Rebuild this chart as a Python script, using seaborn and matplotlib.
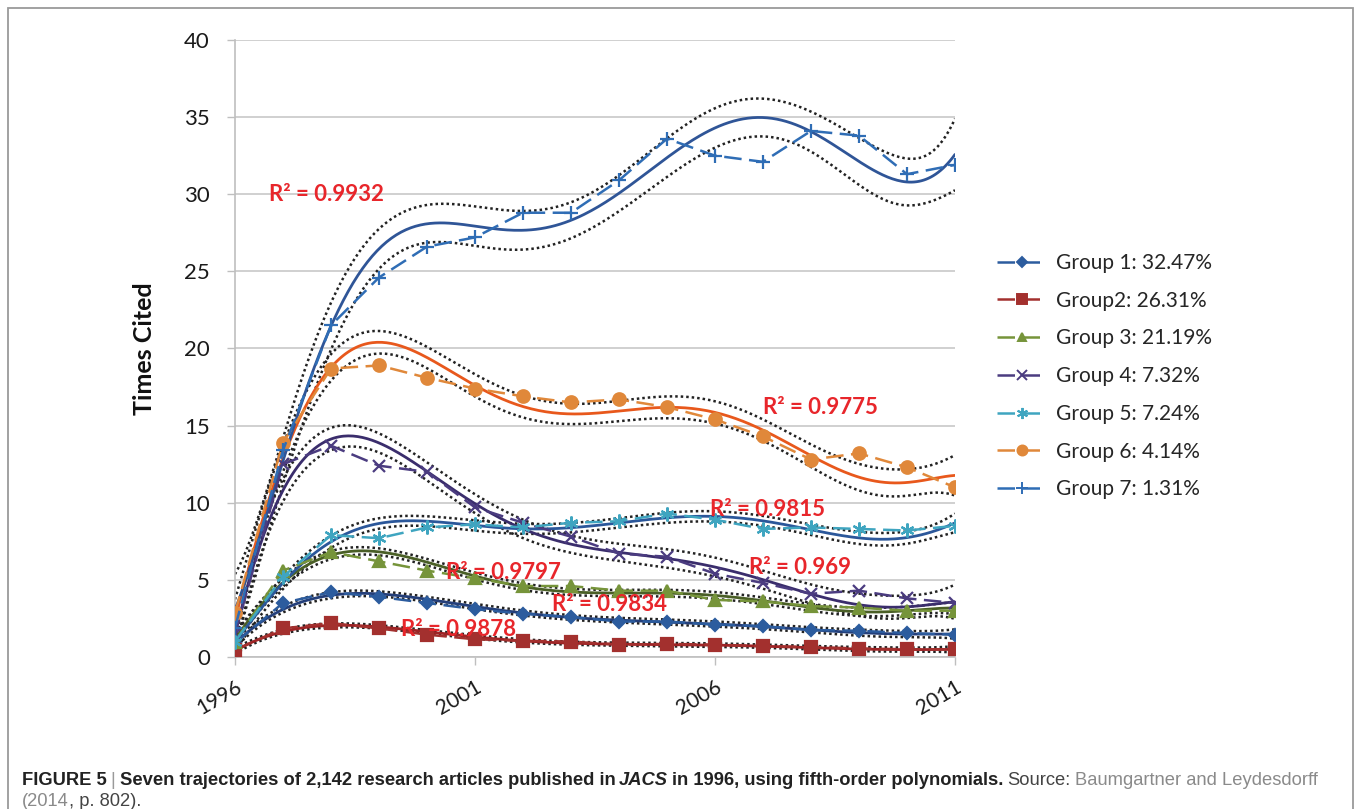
import numpy as np
import pandas as pd
import matplotlib
matplotlib.use("Agg")
import matplotlib.pyplot as plt
import seaborn as sns
from matplotlib.lines import Line2D
from matplotlib.patches import Rectangle
from matplotlib.transforms import IdentityTransform, ScaledTranslation
from matplotlib import font_manager

# ==========================================
# data (times cited per year)
# ==========================================
years = list(range(1996, 2012))
group_names = ["Group 1: 32.47%", "Group2: 26.31%", "Group 3: 21.19%", "Group 4: 7.32%",
               "Group 5: 7.24%", "Group 6: 4.14%", "Group 7: 1.31%"]
g1 = [0.9, 3.5, 4.2, 3.9, 3.5, 3.1, 2.8, 2.6, 2.3, 2.3, 2.1, 2.0, 1.75, 1.7, 1.55, 1.45]
g2 = [0.45, 1.85, 2.2, 1.85, 1.45, 1.15, 1.05, 1.0, 0.8, 0.85, 0.8, 0.7, 0.65, 0.55, 0.5, 0.5]
g3 = [1.0, 5.6, 6.8, 6.2, 5.6, 5.1, 4.6, 4.6, 4.3, 4.3, 3.7, 3.6, 3.3, 3.2, 3.0, 3.0]
g4 = [1.5, 12.5, 13.7, 12.4, 12.0, 9.7, 8.7, 7.8, 6.7, 6.5, 5.4, 4.8, 4.1, 4.3, 3.8, 3.5]
g5 = [1.0, 5.2, 7.9, 7.7, 8.4, 8.6, 8.4, 8.7, 8.8, 9.3, 8.9, 8.3, 8.4, 8.3, 8.2, 8.5]
g6 = [2.85, 13.9, 18.7, 18.9, 18.1, 17.4, 16.9, 16.5, 16.7, 16.2, 15.4, 14.3, 12.8, 13.2, 12.3, 11.0]
g7 = [1.9, 13.4, 21.5, 24.6, 26.6, 27.2, 28.8, 28.8, 30.9, 33.6, 32.5, 32.1, 34.1, 33.8, 31.3, 31.9]
series = [g1, g2, g3, g4, g5, g6, g7]

# trend lines as drawn in the figure, read at each year
t1 = [0.9, 3.0, 4.1, 4.1, 3.7, 3.2, 2.9, 2.6, 2.4, 2.25, 2.1, 1.95, 1.8, 1.6, 1.45, 1.5]
t2 = [0.4, 1.6, 2.1, 1.95, 1.6, 1.3, 1.05, 0.9, 0.85, 0.8, 0.75, 0.7, 0.6, 0.55, 0.45, 0.5]
t3 = [1.2, 4.6, 6.9, 6.8, 6.0, 5.2, 4.6, 4.3, 4.2, 4.1, 3.9, 3.6, 3.3, 3.0, 2.9, 3.2]
t4 = [1.5, 10.5, 14.6, 13.7, 11.9, 9.9, 8.4, 7.45, 6.7, 6.35, 5.8, 5.0, 4.15, 3.4, 3.2, 3.6]
t5 = [1.0, 4.8, 7.5, 8.6, 8.8, 8.6, 8.3, 8.3, 8.7, 9.1, 9.1, 8.8, 8.2, 7.8, 7.7, 8.7]
t6 = [2.5, 12.5, 19.3, 20.3, 19.1, 17.6, 16.5, 15.75, 15.9, 16.1, 15.9, 14.7, 13.0, 11.8, 11.2, 11.8]
t7 = [3.0, 13.0, 20.8, 27.0, 28.1, 27.8, 27.5, 28.3, 30.3, 32.4, 34.2, 34.8, 34.2, 32.2, 30.7, 32.6]
trends = [t1, t2, t3, t4, t5, t6, t7]
# half-width of the dotted band around each trend, mid-period
band_w = [0.15, 0.1, 0.2, 0.55, 0.3, 0.65, 1.15]

r2_labels = ["R² = 0.9834", "R² = 0.9878", "R² = 0.9797", "R² = 0.969",
             "R² = 0.9815", "R² = 0.9775", "R² = 0.9932"]
r2_pos = [(2002.6, 3.4), (1999.45, 1.75), (2000.4, 5.5), (2006.7, 5.8),
          (2005.9, 9.55), (2007.0, 16.2), (1996.7, 30.0)]

# styles
mark_col = ["#2C5C9E", "#A3302E", "#76943A", "#4B3C80", "#3FA5C0", "#E0883A", "#2F6DB5"]
fit_col = ["#243F7A", "#9E2325", "#4A5F26", "#3A2D6C", "#2B579A", "#E8581C", "#2F5597"]
markers = ["D", "s", "^", "x", (6, 2, 0), "o", "+"]
msizes = [6, 9, 8, 9, 10, 9, 10]

sns.set_theme(style="white")
names = {f.name for f in font_manager.fontManager.ttflist}
base_font = "Lato" if "Lato" in names else "DejaVu Sans"
cap_font = "Liberation Sans Narrow" if "Liberation Sans Narrow" in names else "Liberation Sans"
plt.rcParams["font.family"] = [base_font, "DejaVu Sans"]

df = pd.DataFrame({
    "year": np.tile(years, len(series)),
    "cited": np.concatenate(series),
    "group": np.repeat(group_names, len(years)),
})

fig = plt.figure(figsize=(13.59, 8.09), dpi=100)
ax = fig.add_axes([0.1729, 0.1879, 0.5298, 0.7627])

# smooth trend lines with dotted band, drawn under the data
xx = np.linspace(1996, 2011, 300)
xs = (np.array(years) - 2003.5) / 7.5
xg = (xx - 2003.5) / 7.5
X5 = np.vander(xs, 6)
G5 = np.vander(xg, 6)
lev = np.sqrt(np.einsum("ij,jk,ik->i", G5, np.linalg.inv(X5.T @ X5), G5))
lev = lev / lev.min()
deg = 7
for i, tr in enumerate(trends):
    fit = np.polyval(np.polyfit(xs, tr, deg), xg)
    half = band_w[i] * lev
    ax.plot(xx, fit + half, ls=(0, (1, 1.2)), color="#222222", lw=1.8, zorder=2)
    ax.plot(xx, fit - half, ls=(0, (1, 1.2)), color="#222222", lw=1.8, zorder=2)
    ax.plot(xx, fit, color=fit_col[i], lw=2.0, zorder=3)

# observed trajectories, one call per group (filled and line markers mixed)
for i, g in enumerate(group_names):
    sub = df[df["group"] == g]
    sns.lineplot(data=sub, x="year", y="cited", color=mark_col[i], marker=markers[i],
                 markersize=msizes[i], markeredgecolor=mark_col[i], markeredgewidth=1.6,
                 dashes=(7, 3), lw=1.8, legend=False, ax=ax, zorder=4)

for (xt, yt), lab in zip(r2_pos, r2_labels):
    ax.text(xt, yt, lab, color="#E8262B", fontsize=16, fontweight="bold",
            ha="left", va="center", zorder=6)

ax.set_xlim(1996, 2011)
ax.set_ylim(0, 40)
ax.set_yticks(range(0, 41, 5))
ax.set_xticks([1996, 2001, 2006, 2011])
ax.set_xticklabels(["1996", "2001", "2006", "2011"], rotation=30, ha="right",
                   rotation_mode="anchor", fontsize=15, color="#1A1A1A")
for lab in ax.get_xticklabels():
    lab.set_transform(lab.get_transform() + ScaledTranslation(-7 / 72, 0, fig.dpi_scale_trans))
ax.tick_params(axis="y", labelsize=16, labelcolor="#1A1A1A", length=6, width=1,
               color="#BFBFBF", direction="out", left=True, pad=12)
ax.tick_params(axis="x", length=6, width=1, color="#BFBFBF", direction="out",
               bottom=True, pad=8)
ax.yaxis.grid(True, color="#C8C8C8", lw=1.2)
ax.xaxis.grid(False)
for side in ["top", "right"]:
    ax.spines[side].set_visible(False)
for side in ["left", "bottom"]:
    ax.spines[side].set_color("#BFBFBF")
    ax.spines[side].set_linewidth(1.2)
ax.set_xlabel("")
ax.set_ylabel("Times Cited", fontsize=18, fontweight="bold", color="#111111", labelpad=20)

handles = [Line2D([0], [0], color=c, ls=(0, (7, 3)), lw=1.8, marker=m, markersize=ms * 0.8,
                  markeredgecolor=c, markeredgewidth=1.4)
           for c, m, ms in zip(mark_col, markers, msizes)]
fig.legend(handles, group_names, loc="center left", bbox_to_anchor=(0.72, 0.535),
           frameon=False, fontsize=15, handlelength=2.4, labelspacing=0.85,
           handletextpad=0.4)

# frame around the figure panel
fig.patches.append(Rectangle((8 / 1359, -0.02), 1345 / 1359, 1 - 8 / 809 + 0.02,
                             transform=fig.transFigure, fill=False,
                             edgecolor="#9A9A9A", lw=1.3))

# caption, placed piece by piece in pixel coordinates
fig.canvas.draw()
renderer = fig.canvas.get_renderer()
cap_size = 13.2
gap = 4.0


def put_line(x, y, pieces):
    for s, kw in pieces:
        t = fig.text(x, y, s, transform=IdentityTransform(), fontsize=cap_size,
                     family=[cap_font, "DejaVu Sans"], va="baseline", ha="left", **kw)
        x = t.get_window_extent(renderer).x1 + gap


dark = "#222222"
grey = "#8A8A8A"
put_line(22, 809 - 785, [
    ("FIGURE 5", dict(fontweight="bold", color=dark)),
    ("|", dict(color="#9A9A9A")),
    ("Seven trajectories of 2,142 research articles published in", dict(fontweight="bold", color=dark)),
    ("JACS", dict(fontweight="bold", style="italic", color=dark)),
    ("in 1996, using fifth-order polynomials.", dict(fontweight="bold", color=dark)),
    ("Source:", dict(color="#444444")),
    ("Baumgartner and Leydesdorff", dict(color=grey)),
])
fig.text(22, 809 - 806, "(2014", transform=IdentityTransform(), fontsize=cap_size,
         family=[cap_font, "DejaVu Sans"], color=grey, va="baseline")
t0 = fig.texts[-1]
fig.text(t0.get_window_extent(renderer).x1, 809 - 806, ", p. 802).",
         transform=IdentityTransform(), fontsize=cap_size,
         family=[cap_font, "DejaVu Sans"], color="#444444", va="baseline")

fig.savefig("out.png", dpi=100)
